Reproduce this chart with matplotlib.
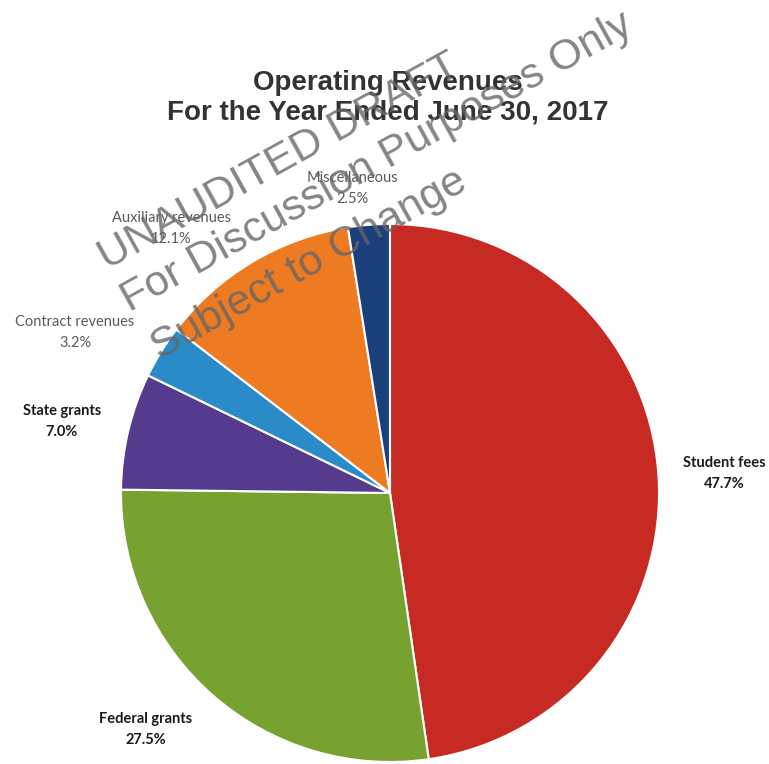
import matplotlib
matplotlib.use("Agg")
import matplotlib.pyplot as plt

# data
categories = ["Student fees", "Federal grants", "State grants",
              "Contract revenues", "Auxiliary revenues", "Miscellaneous"]
shares = [47.7, 27.5, 7.0, 3.2, 12.1, 2.5]
colors = ["#C62A23", "#78A22F", "#553B8E", "#2A8BC8", "#EE7A22", "#1B3F7A"]

# label placement (pixel centres of the two-line labels) and look
label_pos = [(724, 473), (146, 729), (62, 421), (75, 332), (171, 228), (352, 188)]
label_bold = [True, True, True, False, False, False]

W, H = 769, 764
fig = plt.figure(figsize=(W / 100, H / 100), dpi=100)
fig.patch.set_facecolor("white")


def fx(x):
    return x / W


def fy(y):
    return 1 - y / H


# pie: centre (390, 493), radius 269 px
cx, cy, r = 390, 493, 269
ax = fig.add_axes([fx(cx - r), fy(cy + r), 2 * r / W, 2 * r / H])
ax.pie(shares, colors=colors, startangle=90, counterclock=False,
       wedgeprops=dict(edgecolor="white", linewidth=1.5))
ax.set_xlim(-1, 1)
ax.set_ylim(-1, 1)
ax.axis("off")

for name, val, (x, y), bold in zip(categories, shares, label_pos, label_bold):
    kw = dict(fontfamily="Lato", fontsize=10.5, ha="center", va="center")
    if bold:
        kw.update(fontweight="bold", color="#1a1a1a")
    else:
        kw.update(color="#5a5a5a")
    fig.text(fx(x), fy(y - 10), name, **kw)
    fig.text(fx(x), fy(y + 11), f"{val:.1f}%", **kw)

# title
fig.text(fx(388), fy(90), "Operating Revenues", ha="center", va="baseline",
         fontfamily="Liberation Sans", fontweight="bold", fontsize=20, color="#333333")
fig.text(fx(388), fy(120), "For the Year Ended June 30, 2017", ha="center", va="baseline",
         fontfamily="Liberation Sans", fontweight="bold", fontsize=20, color="#333333")

# draft watermark
wm = ["UNAUDITED DRAFT", "For Discussion Purposes Only", "Subject to Change"]
wm_start = [(107, 270), (130, 312), (160, 360)]
for s, (x, y) in zip(wm, wm_start):
    fig.text(fx(x), fy(y), s, rotation=29, rotation_mode="anchor",
             ha="left", va="baseline", fontfamily="Liberation Sans",
             fontsize=31, color="#666666", alpha=0.8)

fig.savefig("out.png", dpi=100)
